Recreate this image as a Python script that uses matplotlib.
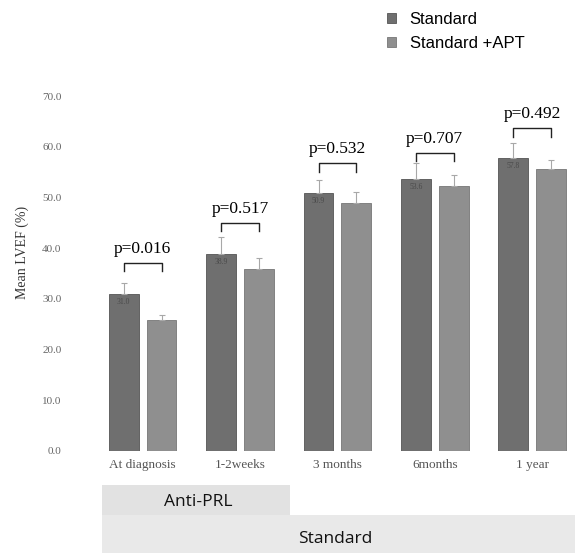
import numpy as np
import matplotlib
matplotlib.use("Agg")
import matplotlib.pyplot as plt
from matplotlib.patches import Rectangle

# data
timepoints = ["At diagnosis", "1-2weeks", "3 months", "6months", "1 year"]
standard = [31.0, 38.9, 50.9, 53.6, 57.8]
standard_apt = [25.8, 35.9, 48.9, 52.3, 55.6]
err_standard = [2.1, 3.2, 2.6, 3.2, 3.0]
err_apt = [1.0, 2.2, 2.2, 2.2, 1.8]
p_values = ["p=0.016", "p=0.517", "p=0.532", "p=0.707", "p=0.492"]
bracket_y = [37.1, 45.0, 56.8, 58.8, 63.7]

c_std = "#6f6f6f"
c_apt = "#8f8f8f"
serif = ["Liberation Serif", "DejaVu Serif"]
sans = ["Liberation Sans", "DejaVu Sans"]

fig = plt.figure(figsize=(5.75, 5.53), dpi=100)
ax = fig.add_axes([92 / 575, 102 / 553, 483 / 575, 355 / 553])

x = np.arange(len(timepoints))
off = 0.194
w = 0.307

b1 = ax.bar(x - off, standard, w, color=c_std, edgecolor="#555555", linewidth=0.6,
            label="Standard")
b2 = ax.bar(x + off, standard_apt, w, color=c_apt, edgecolor="#777777", linewidth=0.6,
            label="Standard +APT")

# upper error bars only
ax.errorbar(x - off, standard, yerr=[np.zeros(5), err_standard], fmt="none",
            ecolor="#a8a8a8", elinewidth=0.8, capsize=2, capthick=0.8)
ax.errorbar(x + off, standard_apt, yerr=[np.zeros(5), err_apt], fmt="none",
            ecolor="#a8a8a8", elinewidth=0.8, capsize=2, capthick=0.8)

# value labels inside standard bars
for xi, v in zip(x, standard):
    ax.text(xi - off, v - 1.6, f"{v:.1f}", ha="center", va="center", fontsize=5.5,
            color="#4a4a4a", family=serif)

# brackets with p values
for xi, by, p in zip(x, bracket_y, p_values):
    x0, x1 = xi - off, xi + off
    h = 1.7
    ax.plot([x0, x0, x1, x1], [by - h, by, by, by - h], color="#222222", lw=1.0,
            solid_joinstyle="round", clip_on=False)
    ax.text(xi, by + 2.7, p, ha="center", va="center", fontsize=12.5, color="#000000",
            family=serif)

ax.set_xlim(-0.52, 4.44)
ax.set_ylim(0, 70)
ax.set_yticks(np.arange(0, 71, 10))
ax.set_yticklabels([f"{t:.1f}" for t in np.arange(0, 71, 10)], family=serif,
                   fontsize=8, color="#666666")
ax.set_xticks(x)
ax.set_xticklabels(timepoints, family=serif, fontsize=9.5, color="#555555")
ax.tick_params(axis="x", length=0, pad=6)
ax.tick_params(axis="y", length=0, pad=22)
for s in ax.spines.values():
    s.set_visible(False)

fig.text(22 / 575, 1 - 252 / 553, "Mean LVEF (%)", rotation=90, ha="center",
         va="center", fontsize=10, color="#333333", family=serif)

leg = fig.legend(handles=[b1, b2], loc="upper left",
                 bbox_to_anchor=(372 / 575, 1 + 3 / 553), frameon=False,
                 prop={"family": sans, "size": 12}, handlelength=0.55,
                 handleheight=0.55, handletextpad=0.8, labelspacing=0.55)

# bottom group boxes
fig.patches.append(Rectangle((102 / 575, 1 - 515 / 553), 188 / 575, 30 / 553,
                             transform=fig.transFigure, facecolor="#e2e2e2",
                             edgecolor="none", zorder=0))
fig.patches.append(Rectangle((102 / 575, 0), 473 / 575, 38 / 553,
                             transform=fig.transFigure, facecolor="#e9e9e9",
                             edgecolor="none", zorder=0))
fig.text(198 / 575, 1 - 502 / 553, "Anti-PRL", ha="center", va="center",
         fontsize=12.5, family=["Open Sans", "DejaVu Sans"], color="#111111")
fig.text(335 / 575, 1 - 539 / 553, "Standard", ha="center", va="center",
         fontsize=12.5, family=["Open Sans", "DejaVu Sans"], color="#111111")

fig.savefig("out.png", dpi=100)
